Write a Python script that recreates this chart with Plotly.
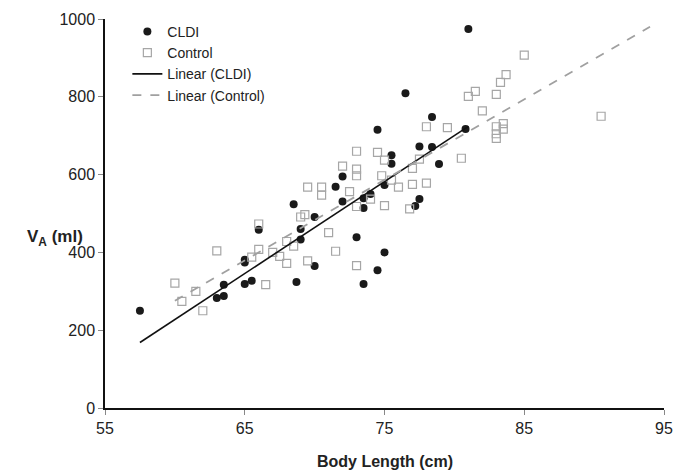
import numpy as np
import plotly.graph_objects as go

# CLDI data (body length cm, VA ml)
cldi_x = [57.5, 63.0, 63.5, 63.5, 65.0, 65.5, 65.0, 65.0, 66.0, 68.7, 69.0, 70.0, 69.0,
          74.5, 77.5, 75.5, 75.5, 72.0, 71.5, 72.0, 73.5, 74.0, 73.5, 75.0, 68.5, 70.0,
          73.0, 75.0, 74.5, 73.5, 77.2, 77.5, 81.0, 76.5, 78.4, 80.8, 78.4, 78.9]
cldi_y = [250, 283, 288, 317, 319, 327, 374, 381, 458, 324, 433, 365, 460,
          715, 672, 650, 628, 595, 569, 531, 539, 550, 514, 573, 524, 491,
          439, 400, 354, 319, 519, 537, 974, 809, 748, 717, 671, 627]

# Control data
ctrl_x = [60.0, 60.5, 61.5, 62.0, 63.0, 66.0, 65.5, 66.5, 67.0, 67.5, 68.0, 68.0, 68.5, 69.5,
          73.0, 74.5, 75.0, 77.5, 72.0, 73.0, 73.0, 74.8, 75.5, 69.5, 70.5, 70.5, 72.5, 76.0,
          77.0, 77.0, 73.0, 74.0, 75.0, 76.8, 69.0, 69.3, 66.0, 71.0, 71.5, 73.0,
          85.0, 83.7, 83.3, 81.5, 81.0, 83.0, 82.0, 78.0, 79.5, 83.0, 83.5, 83.5, 83.0, 83.0,
          80.5, 78.0, 90.5]
ctrl_y = [321, 274, 300, 250, 404, 408, 388, 317, 400, 390, 372, 428, 416, 378,
          660, 657, 637, 640, 622, 614, 597, 597, 586, 568, 568, 547, 556, 568,
          616, 575, 518, 537, 520, 512, 491, 497, 473, 451, 403, 366,
          907, 857, 837, 814, 801, 806, 764, 723, 721, 723, 731, 717, 705, 693,
          642, 578, 750]

x_ticks = [55, 65, 75, 85, 95]
y_ticks = [0, 200, 400, 600, 800, 1000]

# least-squares trend lines
c_cl = np.polyfit(cldi_x, cldi_y, 1)
c_ct = np.polyfit(ctrl_x, ctrl_y, 1)
xl_cl = np.array([min(cldi_x), max(cldi_x)])
xl_ct = np.array([min(ctrl_x), 94.0])

fig = go.Figure()
fig.add_trace(go.Scatter(x=cldi_x, y=cldi_y, mode="markers", name="CLDI",
                         marker=dict(symbol="circle", size=8, color="#1a1a1a")))
fig.add_trace(go.Scatter(x=ctrl_x, y=ctrl_y, mode="markers", name="Control",
                         marker=dict(symbol="square-open", size=8, color="#a6a6a6",
                                     line=dict(width=1.2, color="#a6a6a6"))))
fig.add_trace(go.Scatter(x=xl_cl, y=np.polyval(c_cl, xl_cl), mode="lines",
                         name="Linear (CLDI)", line=dict(color="#111111", width=1.6)))
fig.add_trace(go.Scatter(x=xl_ct, y=np.polyval(c_ct, xl_ct), mode="lines",
                         name="Linear (Control)",
                         line=dict(color="#a0a0a0", width=1.8, dash="dash")))

axis_common = dict(showgrid=False, zeroline=False, showline=True, linecolor="#111111",
                   linewidth=1.5, ticks="outside", ticklen=5, tickcolor="#888888",
                   automargin=False,
                   tickfont=dict(family="Liberation Sans, Arial", size=16, color="#222222"))
fig.update_xaxes(range=[55, 95], tickvals=x_ticks, ticktext=[str(v) for v in x_ticks],
                 **axis_common)
fig.update_yaxes(range=[0, 1000], tickvals=y_ticks, ticktext=[str(v) for v in y_ticks],
                 **axis_common)

fig.update_layout(
    width=676, height=474,
    margin=dict(l=105, r=12, t=19, b=66, autoexpand=False),
    plot_bgcolor="white", paper_bgcolor="white",
    showlegend=True,
    legend=dict(x=0.04, y=1.008, xanchor="left", yanchor="top",
                bgcolor="rgba(0,0,0,0)", tracegroupgap=0,
                font=dict(family="Liberation Sans, Arial", size=14, color="#222222")),
    annotations=[
        dict(text="<b>Body Length (cm)</b>", xref="paper", yref="paper", x=0.5, y=-0.138,
             xanchor="center", yanchor="middle", showarrow=False,
             font=dict(family="Liberation Sans, Arial", size=16, color="#222222")),
        dict(text="<b>V<sub>A</sub> (ml)</b>", xref="paper", x=-0.09, yref="y", y=437,
             xanchor="center", yanchor="middle", showarrow=False,
             font=dict(family="Liberation Sans, Arial", size=17, color="#222222")),
    ],
)

fig.write_html("out.html", config={"displayModeBar": False},
               post_script="document.body.style.margin='0';")
